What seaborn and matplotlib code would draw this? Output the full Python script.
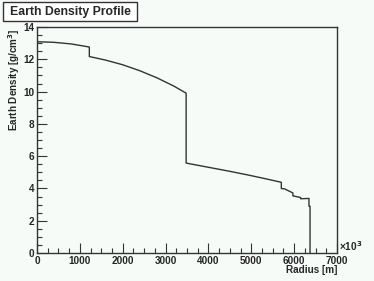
import numpy as np
import pandas as pd
import matplotlib
matplotlib.use("Agg")
import matplotlib.pyplot as plt
import seaborn as sns
from matplotlib.patches import Rectangle
from matplotlib.ticker import MultipleLocator, AutoMinorLocator

# radius in units of 10^3 m, density in g/cm^3
radius = [0, 400, 800, 1221, 1221, 1600, 2000, 2400, 2800, 3200, 3480,
          3480, 4000, 4500, 5000, 5400, 5701, 5701, 5771, 5971, 5971,
          6151, 6151, 6346, 6346, 6371, 6371]
density = [13.09, 13.05, 12.95, 12.76, 12.17, 11.95, 11.66, 11.29, 10.85, 10.33, 9.90,
           5.57, 5.31, 5.06, 4.79, 4.56, 4.38, 3.99, 3.98, 3.72, 3.54,
           3.44, 3.36, 3.38, 2.90, 2.90, 0.0]

df = pd.DataFrame({"Radius": radius, "Density": density})

bg = "#f6fbf8"
sns.set_theme(style="ticks")
plt.rcParams["font.family"] = ["Liberation Sans", "DejaVu Sans"]
plt.rcParams["font.weight"] = "bold"

W, H = 374, 281
fig = plt.figure(figsize=(W / 100, H / 100), dpi=100, facecolor=bg)
ax = fig.add_axes([37 / W, 1 - 253 / H, 300 / W, 226 / H])
ax.set_facecolor(bg)

sns.lineplot(data=df, x="Radius", y="Density", sort=False, estimator=None,
             color="#333333", linewidth=1.0, ax=ax)

ax.set_xlim(0, 7000)
ax.set_ylim(0, 14)
ax.xaxis.set_major_locator(MultipleLocator(1000))
ax.xaxis.set_minor_locator(AutoMinorLocator(4))
ax.yaxis.set_major_locator(MultipleLocator(2))
ax.yaxis.set_minor_locator(AutoMinorLocator(4))
ax.tick_params(which="both", direction="in", top=False, right=False,
               color="#333333", width=0.8, labelsize=7.2, pad=2)
ax.tick_params(which="major", length=7)
ax.tick_params(which="minor", length=3.5)
for s in ax.spines.values():
    s.set_color("#333333")
    s.set_linewidth(1.0)
for lab in ax.get_xticklabels() + ax.get_yticklabels():
    lab.set_fontweight("bold")

ax.set_xlabel("")
ax.set_ylabel("")
fig.text(337 / W, 1 - 270 / H, "Radius [m]", ha="right", va="center",
         fontsize=7.2, fontweight="bold")
fig.text(14 / W, 1 - 28 / H, "Earth Density [g/cm$^3$]", ha="center", va="top",
         rotation=90, fontsize=7.1, fontweight="bold")
fig.text(339 / W, 1 - 246 / H, "\u00d710$^3$", ha="left", va="center",
         fontsize=7.2, fontweight="bold")

# title box
fig.patches.append(Rectangle((3 / W, 1 - 21 / H), 134 / W, 19 / H,
                             transform=fig.transFigure, facecolor="white",
                             edgecolor="#333333", linewidth=1.0))
fig.text(70 / W, 1 - 11.5 / H, "Earth Density Profile", ha="center", va="center",
         fontsize=8.8, fontweight="bold")

fig.savefig("out.png", dpi=100, facecolor=bg)
